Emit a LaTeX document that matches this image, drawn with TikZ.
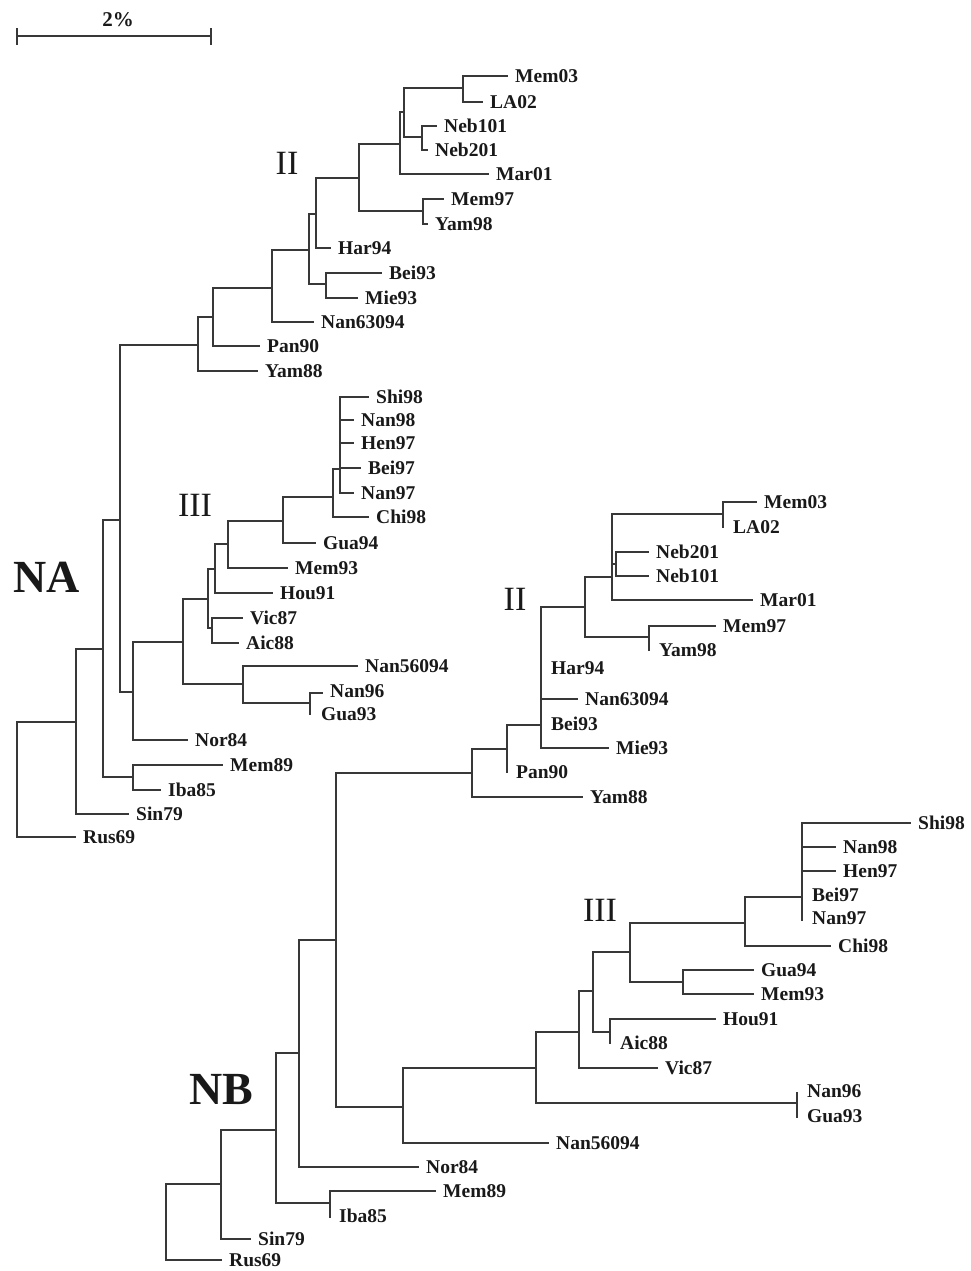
\documentclass[tikz,border=0pt]{standalone}
\usepackage{fontspec}
\setmainfont{Liberation Serif}
\begin{document}
\begin{tikzpicture}[x=1pt,y=-1pt,
  br/.style={line width=1.6pt,draw=black!78,line cap=rect},
  lab/.style={anchor=west,inner sep=0pt,xshift=8pt,text=black!90,
    font=\bfseries\fontsize{19.5}{20}\selectfont,text height=13pt,text depth=0pt},
  clade/.style={inner sep=0pt,text=black!90,font=\fontsize{34}{36}\selectfont},
  big/.style={inner sep=0pt,text=black!90,font=\bfseries\fontsize{46}{48}\selectfont}]
\useasboundingbox (0,0) rectangle (970,1271);
% scale bar
\coordinate (sbL) at (17,36);
\coordinate (sbR) at (211,36);
\draw[br,line width=1.4pt] (sbL) -- (sbR);
\draw[br,line width=1.4pt] ([yshift=-8pt]sbL) -- ([yshift=7pt]sbL);
\draw[br,line width=1.4pt] ([yshift=-8pt]sbR) -- ([yshift=7pt]sbR);
\node[inner sep=0pt,text=black!90,font=\bfseries\fontsize{21}{22}\selectfont] (sbT) at (118,20) {2\%};
% ---------------- NA tree ----------------
\coordinate (aR) at (17,722);
\coordinate (a76) at (76,722);
\coordinate (a103) at (103,649);
\coordinate (a133m) at (133,777);
\coordinate (a120) at (120,520);
\coordinate (a198) at (198,345);
\coordinate (a213) at (213,317);
\coordinate (a272) at (272,288);
\coordinate (a309) at (309,250);
\coordinate (a326) at (326,284);
\coordinate (a316) at (316,214);
\coordinate (a359) at (359,178);
\coordinate (a423) at (423,211);
\coordinate (a400) at (400,144);
\coordinate (a404) at (404,112);
\coordinate (a463) at (463,88);
\coordinate (a422) at (422,137);
\coordinate (a133) at (133,692);
\coordinate (a183) at (183,642);
\coordinate (a243) at (243,684);
\coordinate (a310) at (310,703);
\coordinate (a208) at (208,599);
\coordinate (a212) at (212,628);
\coordinate (a215) at (215,569);
\coordinate (a228) at (228,544);
\coordinate (a283) at (283,521);
\coordinate (a333) at (333,497);
\coordinate (a340) at (340,469);
% NA leaves
\coordinate (aRus69) at (75,837);
\coordinate (aSin79) at (128,814);
\coordinate (aMem89) at (222,765);
\coordinate (aIba85) at (160,790);
\coordinate (aYam88) at (257,371);
\coordinate (aPan90) at (259,346);
\coordinate (aNan63094) at (313,322);
\coordinate (aBei93) at (381,273);
\coordinate (aMie93) at (357,298);
\coordinate (aHar94) at (330,248);
\coordinate (aMem97) at (443,199);
\coordinate (aYam98) at (427,224);
\coordinate (aMar01) at (488,174);
\coordinate (aMem03) at (507,76);
\coordinate (aLA02) at (482,102);
\coordinate (aNeb101) at (436,126);
\coordinate (aNeb201) at (427,150);
\coordinate (aNor84) at (187,740);
\coordinate (aNan56094) at (357,666);
\coordinate (aNan96) at (322,691);
\coordinate (aGua93) at (313,714);
\coordinate (aVic87) at (242,618);
\coordinate (aAic88) at (238,643);
\coordinate (aHou91) at (272,593);
\coordinate (aMem93) at (287,568);
\coordinate (aGua94) at (315,543);
\coordinate (aChi98) at (368,517);
\coordinate (aShi98) at (368,397);
\coordinate (aNan98) at (353,420);
\coordinate (aHen97) at (353,443);
\coordinate (aBei97) at (360,468);
\coordinate (aNan97) at (353,493);
\foreach \p/\c in {aR/a76,aR/aRus69,a76/aSin79,a76/a103,a103/a133m,a103/a120,
  a133m/aMem89,a133m/aIba85,a120/a198,a120/a133,a198/aYam88,a198/a213,
  a213/aPan90,a213/a272,a272/aNan63094,a272/a309,a309/a326,a309/a316,
  a326/aBei93,a326/aMie93,a316/aHar94,a316/a359,a359/a400,a359/a423,
  a423/aMem97,a423/aYam98,a400/aMar01,a400/a404,a404/a463,a404/a422,
  a463/aMem03,a463/aLA02,a422/aNeb101,a422/aNeb201,a133/aNor84,a133/a183,
  a183/a208,a183/a243,a243/aNan56094,a243/a310,a208/a215,a208/a212,
  a212/aVic87,a212/aAic88,a215/a228,a215/aHou91,a228/a283,a228/aMem93,
  a283/a333,a283/aGua94,a333/a340,a333/aChi98,a340/aShi98,a340/aNan98,
  a340/aHen97,a340/aBei97,a340/aNan97}
  \draw[br] (\p) |- (\c);
\coordinate (a310t) at (310,693);
\coordinate (a310b) at (310,714);
\draw[br] (a310) -- (a310t) -- (aNan96 |- a310t);
\draw[br] (a310) -- (a310b);
\foreach \n/\t in {aRus69/Rus69,aSin79/Sin79,aMem89/Mem89,aIba85/Iba85,
  aYam88/Yam88,aPan90/Pan90,aNan63094/Nan63094,aBei93/Bei93,aMie93/Mie93,
  aHar94/Har94,aMem97/Mem97,aYam98/Yam98,aMar01/Mar01,aMem03/Mem03,
  aLA02/LA02,aNeb101/Neb101,aNeb201/Neb201,aNor84/Nor84,aNan56094/Nan56094,
  aNan96/Nan96,aGua93/Gua93,aVic87/Vic87,aAic88/Aic88,aHou91/Hou91,
  aMem93/Mem93,aGua94/Gua94,aChi98/Chi98,aShi98/Shi98,aNan98/Nan98,
  aHen97/Hen97,aBei97/Bei97,aNan97/Nan97}
  \node[lab] (L\n) at (\n) {\t};
\node[clade] (aII) at (287,163) {II};
\node[clade] (aIII) at (195,505) {III};
\node[big] (aNA) at (47,577) {NA};
% ---------------- NB tree ----------------
\coordinate (bR) at (166,1184);
\coordinate (b221) at (221,1184);
\coordinate (b276) at (276,1130);
\coordinate (b330) at (330,1203);
\coordinate (b299) at (299,1053);
\coordinate (b336) at (336,940);
\coordinate (b472) at (472,773);
\coordinate (b507) at (507,749);
\coordinate (b541) at (541,725);
\coordinate (b585) at (585,607);
\coordinate (b649) at (649,637);
\coordinate (b612) at (612,577);
\coordinate (b723) at (723,514);
\coordinate (b616) at (616,564);
\coordinate (b403) at (403,1107);
\coordinate (b536) at (536,1068);
\coordinate (b797) at (797,1103);
\coordinate (b579) at (579,1032);
\coordinate (b593) at (593,991);
\coordinate (b610) at (610,1032);
\coordinate (b630) at (630,952);
\coordinate (b683) at (683,982);
\coordinate (b745) at (745,923);
\coordinate (b802) at (802,897);
% NB leaves
\coordinate (bRus69) at (221,1260);
\coordinate (bSin79) at (250,1239);
\coordinate (bMem89) at (435,1191);
\coordinate (bIba85) at (331,1216);
\coordinate (bNor84) at (418,1167);
\coordinate (bYam88) at (582,797);
\coordinate (bPan90) at (508,772);
\coordinate (bNan63094) at (577,699);
\coordinate (bMie93) at (608,748);
\coordinate (bMem97) at (715,626);
\coordinate (bYam98) at (651,650);
\coordinate (bMar01) at (752,600);
\coordinate (bMem03) at (756,502);
\coordinate (bLA02) at (725,527);
\coordinate (bNeb201) at (648,552);
\coordinate (bNeb101) at (648,576);
\coordinate (bNan56094) at (548,1143);
\coordinate (bNan96) at (799,1091);
\coordinate (bGua93) at (799,1116);
\coordinate (bVic87) at (657,1068);
\coordinate (bHou91) at (715,1019);
\coordinate (bAic88) at (612,1043);
\coordinate (bGua94) at (753,970);
\coordinate (bMem93) at (753,994);
\coordinate (bChi98) at (830,946);
\coordinate (bShi98) at (910,823);
\coordinate (bNan98) at (835,847);
\coordinate (bHen97) at (835,871);
\coordinate (bBei97) at (804,895);
\coordinate (bNan97) at (804,918);
\coordinate (bHar94) at (543,668);
\coordinate (bBei93) at (543,724);
\foreach \p/\c in {bR/b221,bR/bRus69,b221/b276,b221/bSin79,b276/b299,b276/b330,
  b330/bMem89,b299/b336,b299/bNor84,b336/b472,b336/b403,b472/b507,
  b472/bYam88,b507/b541,b541/b585,b541/bNan63094,b541/bMie93,b585/b612,
  b585/b649,b649/bMem97,b612/b723,b612/b616,b612/bMar01,b723/bMem03,
  b616/bNeb201,b616/bNeb101,b403/b536,b403/bNan56094,b536/b579,b536/b797,
  b579/b593,b579/bVic87,b593/b630,b593/b610,b610/bHou91,
  b630/b745,b630/b683,b683/bGua94,b683/bMem93,b745/b802,b745/bChi98,
  b802/bShi98,b802/bNan98,b802/bHen97}
  \draw[br] (\p) |- (\c);
% zero-length tips (vertical ends only)
\coordinate (b330e) at (330,1217);
\coordinate (b507e) at (507,772);
\coordinate (b649e) at (649,650);
\coordinate (b723e) at (723,527);
\coordinate (b797t) at (797,1093);
\coordinate (b797e) at (797,1117);
\coordinate (b610e) at (610,1043);
\coordinate (b802e) at (802,920);
\draw[br] (b330) -- (b330e);
\draw[br] (b507) -- (b507e);
\draw[br] (b649) -- (b649e);
\draw[br] (b723) -- (b723e);
\draw[br] (b797t) -- (b797e);
\draw[br] (b610) -- (b610e);
\draw[br] (b802) -- (b802e);
\foreach \n/\t in {bRus69/Rus69,bSin79/Sin79,bMem89/Mem89,bIba85/Iba85,
  bNor84/Nor84,bYam88/Yam88,bPan90/Pan90,bNan63094/Nan63094,bMie93/Mie93,
  bMem97/Mem97,bYam98/Yam98,bMar01/Mar01,bMem03/Mem03,bLA02/LA02,
  bNeb201/Neb201,bNeb101/Neb101,bNan56094/Nan56094,bNan96/Nan96,
  bGua93/Gua93,bVic87/Vic87,bHou91/Hou91,bAic88/Aic88,bGua94/Gua94,
  bMem93/Mem93,bChi98/Chi98,bShi98/Shi98,bNan98/Nan98,bHen97/Hen97,
  bBei97/Bei97,bNan97/Nan97,bHar94/Har94,bBei93/Bei93}
  \node[lab] (L\n) at (\n) {\t};
\node[clade] (bII) at (515,599) {II};
\node[clade] (bIII) at (600,910) {III};
\node[big] (bNB) at (221,1089) {NB};
\end{tikzpicture}
\end{document}
